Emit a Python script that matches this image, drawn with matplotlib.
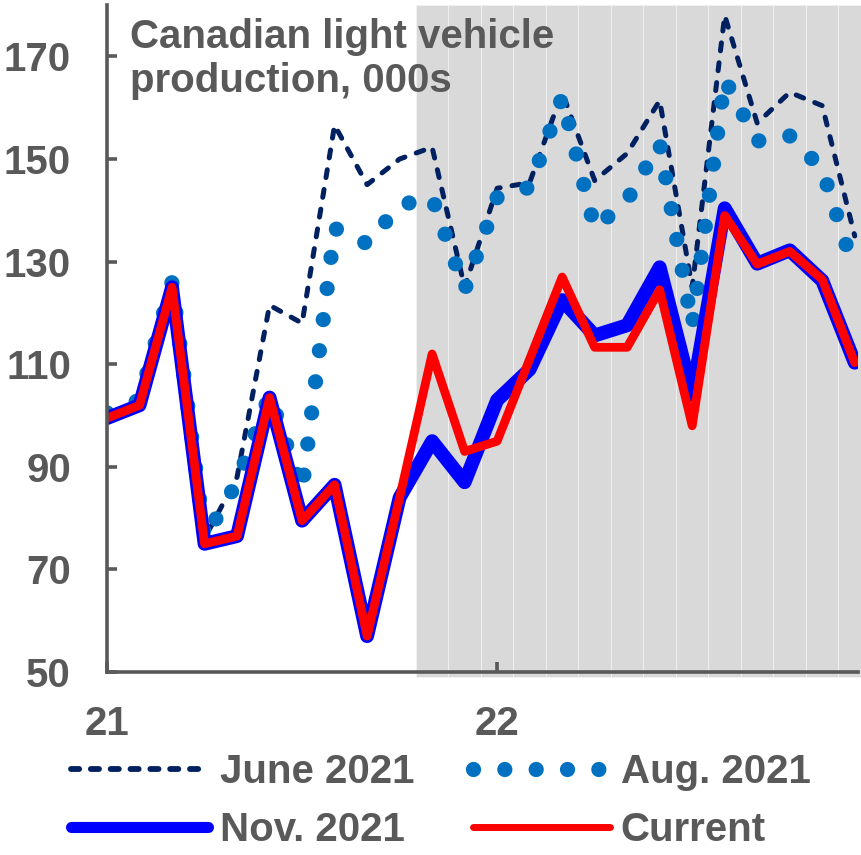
import numpy as np
import pandas as pd
import matplotlib
matplotlib.use("Agg")
import matplotlib.pyplot as plt
from matplotlib.lines import Line2D

# monthly, Jan 2021 .. Dec 2022, thousands of units
months = pd.date_range("2021-01-01", "2022-12-01", freq="MS")
june_2021 = [99.5, 102, 125, 76, 88, 121.5, 118, 156.6, 145, 150, 152.3, 125,
             144.3, 145.4, 163, 145.8, 151.1, 161.4, 125, 178, 157, 163, 160.4, 135]
aug_2021 = [100.5, 103, 126, 76, 87, 104, 85.5, 136.5, 133.5, 141, 142.5, 124.5,
            142.5, 144.5, 162, 136.5, 142, 153, 117.5, 165.5, 153.5, 154.5, 148, 128]
nov_2021 = [99.5, 102, 125, 75, 76.5, 103.5, 79.5, 86.5, 57, 84, 95, 87,
            103, 109, 122.5, 115.6, 117.6, 128.9, 104, 140.4, 129.6, 132.2, 126.3, 110.3]
current = [99.5, 102, 125, 75, 76.5, 103.5, 79.5, 86.5, 57, 84, 112, 93,
           95, 111, 127, 113.3, 113.3, 124.5, 98, 139, 129.5, 132, 126.5, 110.3]
forecast_start = "2021-11-01"
year_ticks = ["21", "22"]

plt.rcParams["font.family"] = ["Liberation Sans", "DejaVu Sans"]
plt.rcParams["font.weight"] = "bold"
grey = "#595959"

fig = plt.figure(figsize=(8.61, 8.55), dpi=100)
ax = fig.add_axes([0.1243, 0.214, 0.8722, 0.780])

x = np.arange(len(months))
shade = x[months >= forecast_start]
ax.bar(shade, 131, bottom=49, width=1, color="#D9D9D9", edgecolor="#f4f4f4",
       linewidth=0.5, clip_on=False, zorder=0)

ax.plot(x, june_2021, color="#002060", lw=3.6, dashes=(1.6, 2.4),
        dash_capstyle="round", zorder=2)
ax.plot(x, aug_2021, color="#0070C0", lw=11, dashes=(0.001, 2.05),
        dash_capstyle="round", zorder=3)
ax.plot(x, nov_2021, color="#0000FF", lw=10, solid_capstyle="round",
        solid_joinstyle="round", zorder=4)
ax.plot(x, current, color="#FF0000", lw=6.3, solid_capstyle="round",
        solid_joinstyle="round", zorder=5)

ax.set_xlim(0, 23.1)
ax.set_ylim(50, 180)
ax.set_yticks(range(50, 171, 20))
ax.set_xticks([0, 12], year_ticks)
for s in ["top", "right"]:
    ax.spines[s].set_visible(False)
for s in ["left", "bottom"]:
    ax.spines[s].set_color(grey)
    ax.spines[s].set_linewidth(2.6)
    ax.spines[s].set_zorder(6)
ax.tick_params(axis="y", direction="in", length=7, width=2.6, color=grey,
               pad=26, labelsize=29, labelcolor=grey)
ax.tick_params(axis="x", direction="in", length=7, width=2.6, color=grey,
               pad=24, labelsize=29, labelcolor=grey)

ax.text(0.03, 0.98, "Canadian light vehicle\nproduction, 000s", transform=ax.transAxes,
        ha="left", va="top", fontsize=29, color=grey, linespacing=1.17, zorder=7)

# legend swatches are drawn a bit thinner than the lines in the plot
h_june = Line2D([], [], color="#002060", lw=4.2, dashes=(1.4, 2.0), dash_capstyle="round")
h_aug = Line2D([], [], color="#0070C0", lw=11, dashes=(0.001, 2.05), dash_capstyle="round")
h_nov = Line2D([], [], color="#0000FF", lw=8, solid_capstyle="round")
h_cur = Line2D([], [], color="#FF0000", lw=5, solid_capstyle="round")
leg = fig.legend([h_june, h_nov, h_aug, h_cur], ["June 2021", "Nov. 2021", "Aug. 2021", "Current"],
                 ncol=2, loc="upper left", bbox_to_anchor=(0.083, 0.119),
                 frameon=False, fontsize=29, handlelength=3.4, handletextpad=0.28,
                 columnspacing=1.45, labelspacing=0.5, borderpad=0, borderaxespad=0)
for t in leg.get_texts():
    t.set_color(grey)

fig.savefig("out.png", dpi=100)
